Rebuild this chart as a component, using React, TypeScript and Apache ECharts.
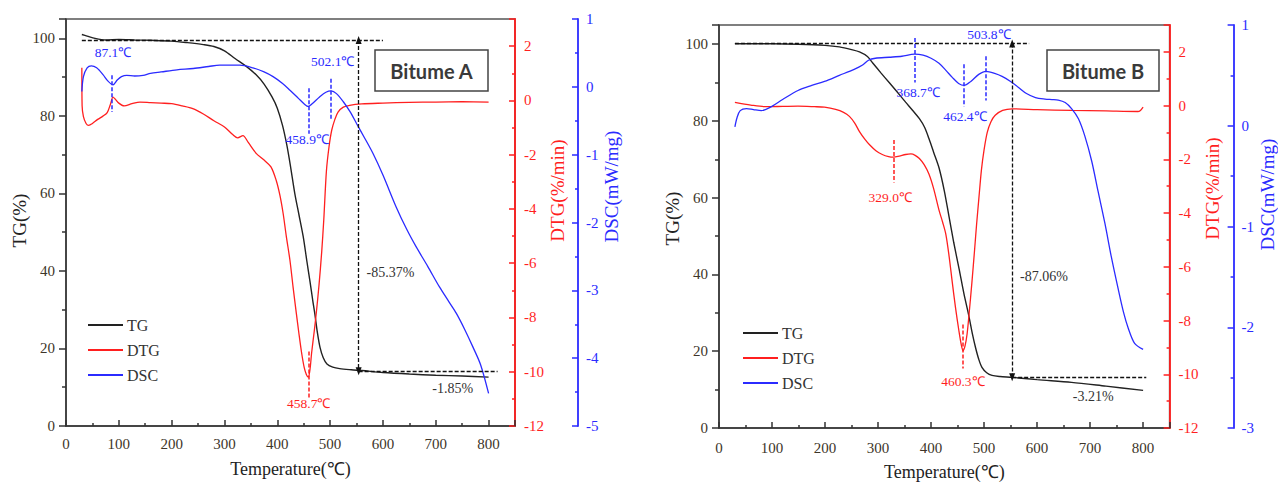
import React, { useEffect, useRef } from 'react';
import * as echarts from 'echarts';

// ---------- data (temperature in °C, value) ----------
const tgA: number[][] = [
  [30, 101.0], [40, 100.6], [55, 100.0], [75, 99.6], [100, 99.7], [130, 99.6], [160, 99.5], [200, 99.3],
  [230, 98.9], [260, 98.4], [280, 97.9], [300, 96.8], [320, 94.8], [340, 92.9], [360, 90.6], [375, 88.2],
  [390, 84.9], [400, 82.0], [410, 77.5], [418, 72.5], [425, 67.0], [433, 60.1], [441, 54.5], [449, 48.9],
  [456, 42.5], [462, 37.2], [467, 32.5], [471, 29.0], [476, 24.0], [481, 20.2], [487, 17.6], [494, 16.0],
  [505, 15.2], [518, 14.8], [540, 14.5], [560, 14.3], [600, 13.8], [650, 13.4], [700, 13.1], [750, 12.9], [800, 12.6],
];
const dtgA: number[][] = [
  [30, 1.2], [30.5, -0.2], [33, -0.6], [38, -0.85], [43, -0.92], [50, -0.85], [60, -0.7], [70, -0.58],
  [78, -0.45], [84, -0.15], [89, 0.12], [93, 0.05], [100, -0.1], [110, -0.2], [125, -0.12], [140, -0.06],
  [160, -0.08], [180, -0.1], [200, -0.12], [220, -0.2], [240, -0.3], [260, -0.5], [280, -0.75], [300, -0.98],
  [315, -1.25], [325, -1.38], [335, -1.3], [345, -1.55], [360, -1.95], [375, -2.2], [388, -2.45], [398, -2.95],
  [405, -3.5], [411, -4.16], [417, -5.0], [424, -5.9], [430, -6.9], [436, -7.84], [441, -8.6], [446, -9.3],
  [451, -9.85], [455, -10.1], [458.7, -10.2], [462, -9.9], [465, -9.3], [470, -8.5], [474, -7.8], [479, -6.8],
  [484, -5.6], [488, -4.4], [493, -2.6], [498, -1.7], [503, -1.1], [509, -0.7], [515, -0.43], [525, -0.25],
  [537, -0.18], [560, -0.13], [600, -0.1], [650, -0.07], [700, -0.06], [750, -0.05], [800, -0.06],
];
const dscA: number[][] = [
  [30, -0.07], [33, 0.15], [40, 0.28], [48, 0.31], [58, 0.28], [70, 0.18], [80, 0.08], [89, 0.03],
  [97, 0.1], [105, 0.15], [115, 0.17], [130, 0.16], [146, 0.17], [160, 0.2], [180, 0.22], [210, 0.25],
  [241, 0.27], [270, 0.3], [291, 0.32], [310, 0.32], [329, 0.32], [354, 0.28], [375, 0.22], [392, 0.15],
  [410, 0.05], [424, -0.05], [440, -0.17], [452, -0.26], [458.9, -0.29], [466, -0.25], [480, -0.15],
  [492, -0.08], [502, -0.06], [512, -0.1], [525, -0.22], [538, -0.37], [550, -0.54], [565, -0.75],
  [581, -0.98], [600, -1.3], [625, -1.77], [645, -2.1], [663, -2.36], [685, -2.65], [707, -2.95],
  [725, -3.17], [739, -3.34], [755, -3.58], [770, -3.83], [785, -4.1], [800, -4.52],
];
const tgB: number[][] = [
  [30, 100.1], [60, 100.1], [100, 100.1], [150, 100.0], [200, 99.7], [227, 99.3], [250, 98.6], [265, 98.0],
  [280, 96.8], [290, 95.1], [305, 92.6], [321, 90.0], [337, 87.4], [352, 84.9], [365, 82.8], [378, 80.6],
  [388, 78.3], [396, 75.4], [405, 71.8], [415, 67.8], [425, 61.8], [434, 55.0], [443, 48.2], [453, 41.4],
  [462, 35.0], [471, 29.4], [478, 24.5], [484, 20.9], [490, 17.9], [496, 15.8], [505, 14.4], [515, 13.7],
  [530, 13.4], [553, 13.2], [600, 12.6], [665, 11.9], [730, 10.9], [800, 9.8],
];
const dtgB: number[][] = [
  [30, 0.12], [60, 0.02], [86, -0.04], [120, -0.03], [149, -0.02], [180, -0.04], [199, -0.06], [220, -0.14],
  [235, -0.25], [246, -0.4], [256, -0.65], [265, -0.97], [275, -1.25], [284, -1.46], [296, -1.68], [308, -1.82],
  [320, -1.9], [329, -1.92], [340, -1.88], [352, -1.82], [362, -1.8], [370, -1.85], [378, -1.97], [387, -2.2],
  [396, -2.55], [405, -3.1], [415, -3.89], [422, -4.35], [428, -4.8], [434, -5.6], [440, -6.57], [446, -7.5],
  [452.6, -8.39], [457, -8.9], [460.3, -9.12], [464, -8.95], [468, -8.5], [472, -7.7], [477, -6.6], [482, -5.4],
  [486, -4.4], [490, -3.5], [495, -2.4], [500, -1.65], [506, -1.0], [513, -0.6], [521, -0.36], [535, -0.18],
  [553, -0.12], [600, -0.15], [665, -0.18], [730, -0.2], [790, -0.22], [795, -0.18], [800, -0.06],
];
const dscB: number[][] = [
  [30, -0.01], [34, 0.08], [40, 0.15], [52, 0.17], [65, 0.16], [80, 0.15], [99, 0.19], [120, 0.26],
  [149, 0.35], [175, 0.4], [199, 0.44], [227, 0.5], [255, 0.56], [270, 0.6], [282, 0.65], [295, 0.67],
  [321, 0.68], [345, 0.69], [368.7, 0.71], [385, 0.7], [400, 0.67], [415, 0.62], [428, 0.55], [440, 0.48],
  [452, 0.42], [462.4, 0.4], [475, 0.44], [490, 0.51], [503.8, 0.54], [520, 0.52], [534, 0.49], [550, 0.44],
  [565, 0.38], [580, 0.32], [597, 0.28], [615, 0.265], [628, 0.26], [640, 0.255], [653, 0.23], [665, 0.17],
  [678, 0.07], [690, -0.1], [703, -0.35], [715, -0.65], [728, -0.97], [740, -1.3], [753, -1.62], [763, -1.85],
  [772, -2.01], [784, -2.16], [800, -2.22],
];

// ---------- annotations (data coordinates) ----------
const dscPeaksA = [
  { t: 87.1, from: 0.17, to: -0.37, label: '87.1℃', lx: 89, ly: 0.5 },
  { t: 458.9, from: -0.02, to: -0.69, label: '458.9℃', lx: 456.7, ly: -0.77 },
  { t: 502.1, from: 0.12, to: -0.49, label: '502.1℃', lx: 505, ly: 0.38 },
];
const dtgPeaksA = [{ t: 458.7, from: -9.25, to: -10.96, label: '458.7℃', lx: 459.6, ly: -11.18 }];
const dscPeaksB = [
  { t: 368.7, from: 0.87, to: 0.43, label: '368.7℃', lx: 375.6, ly: 0.33 },
  { t: 462.4, from: 0.61, to: 0.19, label: '462.4℃', lx: 463.8, ly: 0.09 },
  { t: 503.8, from: 0.69, to: 0.25, label: '503.8℃', lx: 509, ly: 0.91 },
];
const dtgPeaksB = [
  { t: 329.0, from: -1.28, to: -2.86, label: '329.0℃', lx: 323, ly: -3.41 },
  { t: 460.3, from: -8.15, to: -9.79, label: '460.3℃', lx: 460, ly: -10.27 },
];
const lossA = { top: 99.6, topFrom: 30, topTo: 600, arrowT: 554, bottom: 14.1, bottomTo: 817, main: '-85.37%', mainAt: [569, 39.5], tail: '-1.85%', tailAt: [732, 9.6] };
const lossB = { top: 100.2, topFrom: 30, topTo: 585, arrowT: 553, bottom: 13.2, bottomTo: 806, main: '-87.06%', mainAt: [568, 39.6], tail: '-3.21%', tailAt: [706, 8.2] };

const legendNames = ['TG', 'DTG', 'DSC'];

const SERIF = 'Liberation Serif';
const AXIS_TXT = '#3d3529';
const BLACK = '#222222';
const RED = '#ff1f1f';
const BLUE = '#2b2bff';

function peakLines(peaks: any[], color: string) {
  return {
    silent: true,
    symbol: ['none', 'none'],
    label: { show: false },
    emphasis: { disabled: true },
    lineStyle: { type: [4, 2], color, width: 1.5 },
    data: peaks.map((p) => [{ coord: [p.t, p.from] }, { coord: [p.t, p.to] }]),
  };
}
function peakTexts(items: { label: string; at: number[]; align?: string }[], color: string, size = 13.5) {
  return {
    silent: true,
    symbol: 'circle',
    symbolSize: 0,
    itemStyle: { color: 'transparent' },
    label: { show: true, position: [0, 0], formatter: '{b}', color, fontFamily: SERIF, fontSize: size, verticalAlign: 'middle' },
    data: items.map((a) => ({ name: a.label, coord: a.at, label: { align: a.align || 'center' } })),
  };
}

function panel(i: number, geo: any, tg: number[][], dtg: number[][], dsc: number[][], dscPeaks: any[], dtgPeaks: any[], loss: any, dscRange: number[], pads: any) {
  const yb = 3 * i;
  const grid = { left: geo.left, top: geo.top, width: geo.width, height: geo.height, show: true, borderColor: '#555', borderWidth: 1.5, backgroundColor: 'transparent' };
  const xAxis = {
    gridIndex: i, type: 'value', min: 0, max: 850, interval: 100,
    name: 'Temperature(℃)', nameLocation: 'middle', nameGap: geo.xNameGap,
    nameTextStyle: { fontFamily: SERIF, fontSize: 18, color: '#222' },
    axisLine: { onZero: false, lineStyle: { color: '#333', width: 1.5 } },
    axisTick: { inside: true, length: 6, lineStyle: { color: '#333', width: 1.5 } },
    minorTick: { show: true, splitNumber: 2, length: 3, lineStyle: { color: '#333', width: 1.5 } },
    axisLabel: { margin: geo.xLabelMargin, fontFamily: SERIF, fontSize: 15, color: AXIS_TXT, showMaxLabel: false },
    splitLine: { show: false },
  };
  const yAxes = [
    {
      gridIndex: i, type: 'value', position: 'left', min: 0, max: 105, interval: 20,
      name: 'TG(%)', nameLocation: 'middle', nameRotate: 90, nameGap: geo.tgGap,
      nameTextStyle: { fontFamily: SERIF, fontSize: 19, color: '#222', padding: pads.tg },
      axisLine: { show: true, onZero: false, lineStyle: { color: '#333', width: 1.5 } },
      axisTick: { show: true, inside: false, length: 7, lineStyle: { color: '#333', width: 1.5 } },
      minorTick: { show: true, splitNumber: 2, length: 4, lineStyle: { color: '#333', width: 1.5 } },
      axisLabel: { margin: 11, fontFamily: SERIF, fontSize: 15, color: AXIS_TXT, showMaxLabel: false },
      splitLine: { show: false },
    },
    {
      gridIndex: i, type: 'value', position: 'right', offset: 0, min: -12, max: 3, interval: 2,
      name: 'DTG(%/min)', nameLocation: 'middle', nameRotate: 90, nameGap: geo.dtgGap,
      nameTextStyle: { fontFamily: SERIF, fontSize: 19, color: RED, padding: pads.dtg },
      axisLine: { show: true, onZero: false, lineStyle: { color: RED, width: 1.8 } },
      axisTick: { show: true, inside: true, length: 6, lineStyle: { color: RED, width: 1.5 } },
      minorTick: { show: true, splitNumber: 2, length: 3, lineStyle: { color: RED, width: 1.5 } },
      axisLabel: { margin: 9, fontFamily: SERIF, fontSize: 15, color: RED, showMaxLabel: false },
      splitLine: { show: false },
    },
    {
      gridIndex: i, type: 'value', position: 'right', offset: geo.dscOffset, min: dscRange[0], max: dscRange[1], interval: 1,
      name: 'DSC(mW/mg)', nameLocation: 'middle', nameRotate: 90, nameGap: geo.dscGap,
      nameTextStyle: { fontFamily: SERIF, fontSize: 19, color: BLUE, padding: pads.dsc },
      axisLine: { show: true, onZero: false, lineStyle: { color: BLUE, width: 1.8 } },
      axisTick: { show: true, inside: true, length: 6, lineStyle: { color: BLUE, width: 1.5 } },
      minorTick: { show: true, splitNumber: 2, length: 3, lineStyle: { color: BLUE, width: 1.5 } },
      axisLabel: { margin: 8, fontFamily: SERIF, fontSize: 15, color: BLUE },
      splitLine: { show: false },
    },
  ];
  const common = { type: 'line', symbol: 'none', smooth: 0.3, xAxisIndex: i, silent: true };
  const series = [
    {
      ...common, name: 'TG', yAxisIndex: yb, data: tg, lineStyle: { color: BLACK, width: 1.4 }, itemStyle: { color: BLACK },
      markLine: {
        silent: true, symbol: ['none', 'none'], label: { show: false }, emphasis: { disabled: true },
        lineStyle: { type: [4, 2], color: '#111', width: 1.3 },
        data: [
          [{ coord: [loss.topFrom, loss.top] }, { coord: [loss.topTo, loss.top] }],
          [{ coord: [loss.arrowT, loss.top], symbol: 'triangle', symbolSize: [6, 8] }, { coord: [loss.arrowT, loss.bottom], symbol: 'triangle', symbolSize: [6, 8] }],
          [{ coord: [loss.arrowT, loss.bottom] }, { coord: [loss.bottomTo, loss.bottom] }],
        ],
      },
      markPoint: peakTexts([
        { label: loss.main, at: loss.mainAt, align: 'left' },
        { label: loss.tail, at: loss.tailAt },
      ], '#333', 14),
    },
    {
      ...common, name: 'DTG', yAxisIndex: yb + 1, data: dtg, lineStyle: { color: RED, width: 1.3 }, itemStyle: { color: RED },
      markLine: peakLines(dtgPeaks, RED),
      markPoint: peakTexts(dtgPeaks.map((p) => ({ label: p.label, at: [p.lx, p.ly] })), RED),
    },
    {
      ...common, name: 'DSC', yAxisIndex: yb + 2, data: dsc, lineStyle: { color: BLUE, width: 1.3 }, itemStyle: { color: BLUE },
      markLine: peakLines(dscPeaks, BLUE),
      markPoint: peakTexts(dscPeaks.map((p) => ({ label: p.label, at: [p.lx, p.ly] })), BLUE),
    },
  ];
  const legend = {
    left: geo.legendLeft, top: geo.legendTop, orient: 'vertical', icon: 'rect', itemWidth: 35, itemHeight: 2, itemGap: 9,
    padding: 0, selectedMode: false, data: legendNames,
    textStyle: { fontFamily: SERIF, fontSize: 16, lineHeight: 16, color: '#333', padding: [0, 0, 0, -1] },
  };
  return { grid, xAxis, yAxes, series, legend };
}

export default function App() {
  const ref = useRef<HTMLDivElement>(null);
  useEffect(() => {
    if (!ref.current) return;
    const chart = echarts.init(ref.current, undefined, { renderer: 'svg' });
    const A = panel(0,
      { left: 66, top: 19, width: 449, height: 407, xNameGap: 34, xLabelMargin: 10, tgGap: 36, dtgGap: 28, dscGap: 24, dscOffset: 63, legendLeft: 88, legendTop: 317 },
      tgA, dtgA, dscA, dscPeaksA, dtgPeaksA, lossA, [-5, 1],
      { tg: [0, 0, 0, 4], dtg: [0, 0, 0, 64], dsc: [0, 0, 0, 72] });
    const B = panel(1,
      { left: 719, top: 25, width: 452, height: 410, xNameGap: 35, xLabelMargin: 12, tgGap: 36, dtgGap: 29, dscGap: 23, dscOffset: 64, legendLeft: 743, legendTop: 325 },
      tgB, dtgB, dscB, dscPeaksB, dtgPeaksB, lossB, [-3, 1],
      { tg: [0, 0, 0, 16], dtg: [0, 0, 0, 76], dsc: [0, 0, 0, 64] });
    chart.setOption({
      animation: false,
      textStyle: { fontFamily: SERIF },
      grid: [A.grid, B.grid],
      xAxis: [A.xAxis, B.xAxis],
      yAxis: [...A.yAxes, ...B.yAxes],
      legend: [A.legend, B.legend],
      series: [...A.series, ...B.series],
      graphic: [
        { type: 'rect', shape: { x: 375, y: 50, width: 113, height: 41 }, style: { fill: '#fff', stroke: '#444', lineWidth: 1.5 }, z: 100 },
        { type: 'text', x: 431.5, y: 71, style: { text: 'Bitume A', font: "bold 20px Lato, 'Open Sans', sans-serif", fill: '#3a3a3a', align: 'center', verticalAlign: 'middle' }, z: 101 },
        { type: 'rect', shape: { x: 1047, y: 50, width: 112, height: 41 }, style: { fill: '#fff', stroke: '#444', lineWidth: 1.5 }, z: 100 },
        { type: 'text', x: 1103, y: 71, style: { text: 'Bitume B', font: "bold 20px Lato, 'Open Sans', sans-serif", fill: '#3a3a3a', align: 'center', verticalAlign: 'middle' }, z: 101 },
      ],
    });
    return () => chart.dispose();
  }, []);
  return <div ref={ref} style={{ position: 'fixed', left: 0, top: 0, width: 1278, height: 486, background: '#fff' }} />;
}
